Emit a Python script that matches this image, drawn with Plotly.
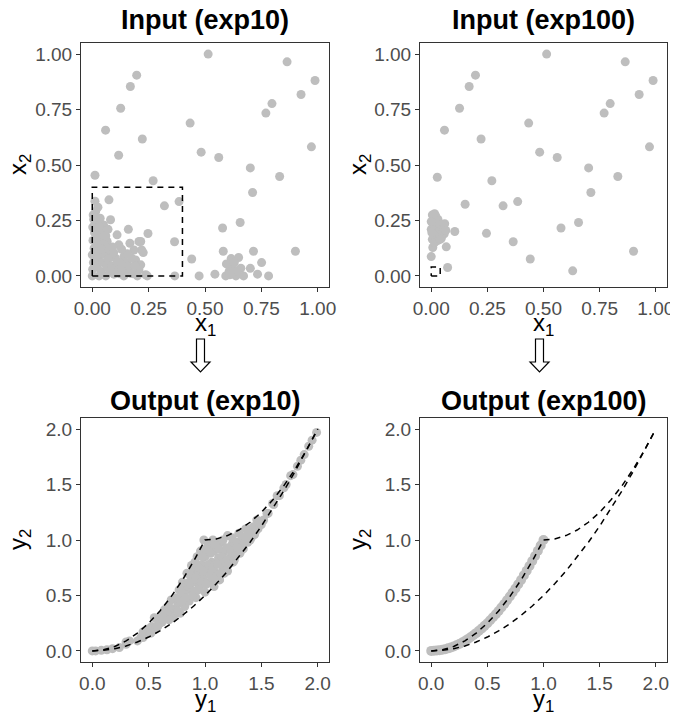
import plotly.graph_objects as go

# ---- data ----
titles = ["Input (exp10)", "Input (exp100)", "Output (exp10)", "Output (exp100)"]

in10_x1 = [0.514, 0.864, 0.988, 0.926, 0.797, 0.770, 0.972, 0.831, 0.701, 0.711, 0.434, 0.483, 0.561,
           0.197, 0.169, 0.126, 0.059, 0.222, 0.117, 0.012, 0.270, 0.385, 0.320, 0.074, 0.012, 0.578,
           0.656, 0.365, 0.441, 0.901, 0.715, 0.581, 0.751, 0.701, 0.733, 0.782, 0.474, 0.544, 0.366,
           0.616, 0.649, 0.595, 0.622, 0.659, 0.637, 0.671, 0.592, 0.607, 0.644, 0.630, 0.610,
           0.247, 0.226, 0.215, 0.081, 0.160, 0.110, 0.167, 0.207, 0.219, 0.185, 0.118, 0.237, 0.244,
           0.096, 0.170, 0.140, 0.155, 0.192, 0.215, 0.207, 0.126, 0.103, 0.081, 0.060, 0.036, 0.044,
           0.022, 0.015, 0.050, 0.066, 0.000, 0.002, 0.005, 0.000, 0.008, 0.003, 0.010, 0.002, 0.006,
           0.004, 0.020, 0.025, 0.018, 0.028, 0.020, 0.030, 0.035, 0.040, 0.045, 0.050, 0.055, 0.042,
           0.060, 0.065, 0.070, 0.075, 0.085, 0.090, 0.100, 0.110, 0.120, 0.130, 0.150, 0.165, 0.180,
           0.190, 0.200, 0.060, 0.030, 0.140, 0.080, 0.095, 0.175, 0.155, 0.130, 0.025, 0.070]
in10_x2 = [1.000, 0.965, 0.881, 0.818, 0.777, 0.734, 0.582, 0.448, 0.487, 0.376, 0.689, 0.558, 0.534,
           0.905, 0.854, 0.756, 0.657, 0.617, 0.544, 0.454, 0.429, 0.335, 0.316, 0.343, 0.337, 0.216,
           0.241, 0.154, 0.076, 0.111, 0.111, 0.111, 0.060, 0.034, 0.008, 0.000, 0.000, 0.008, 0.000,
           0.078, 0.083, 0.054, 0.039, 0.035, 0.000, 0.000, 0.000, 0.020, 0.020, 0.060, 0.005,
           0.191, 0.105, 0.155, 0.253, 0.210, 0.185, 0.147, 0.155, 0.117, 0.117, 0.140, 0.005, 0.000,
           0.008, 0.012, 0.087, 0.057, 0.072, 0.050, 0.027, 0.057, 0.080, 0.095, 0.117, 0.170, 0.200,
           0.245, 0.290, 0.230, 0.155, 0.000, 0.030, 0.060, 0.095, 0.125, 0.160, 0.195, 0.220, 0.255,
           0.275, 0.040, 0.080, 0.110, 0.140, 0.180, 0.220, 0.260, 0.020, 0.060, 0.100, 0.140, 0.120,
           0.180, 0.040, 0.075, 0.120, 0.045, 0.130, 0.030, 0.060, 0.010, 0.035, 0.020, 0.040, 0.010,
           0.045, 0.000, 0.000, 0.000, 0.000, 0.020, 0.105, 0.080, 0.100, 0.120, 0.310, 0.210]

in100_x1 = [0.514, 0.864, 0.988, 0.926, 0.797, 0.770, 0.972, 0.831, 0.701, 0.711, 0.434, 0.483, 0.561,
            0.197, 0.169, 0.126, 0.059, 0.222, 0.027, 0.270, 0.385, 0.320, 0.151, 0.578, 0.656, 0.365,
            0.441, 0.901, 0.630, 0.246, 0.105, 0.073, 0.067, 0.007, 0.000,
            0.005, 0.010, 0.000, 0.008, 0.012, 0.005, 0.020, 0.025, 0.020, 0.025, 0.018, 0.030, 0.035,
            0.040, 0.035, 0.030, 0.045, 0.050, 0.055, 0.060, 0.058, 0.045, 0.015, 0.040, 0.065, 0.003,
            0.015, 0.000]
in100_x2 = [1.000, 0.965, 0.881, 0.818, 0.777, 0.734, 0.582, 0.448, 0.487, 0.376, 0.689, 0.558, 0.534,
            0.905, 0.854, 0.756, 0.657, 0.617, 0.445, 0.429, 0.335, 0.316, 0.323, 0.216, 0.241, 0.154,
            0.076, 0.111, 0.023, 0.192, 0.200, 0.038, 0.131, 0.128, 0.087,
            0.165, 0.190, 0.210, 0.235, 0.260, 0.275, 0.270, 0.245, 0.220, 0.195, 0.175, 0.160, 0.185,
            0.210, 0.235, 0.255, 0.230, 0.195, 0.215, 0.235, 0.190, 0.170, 0.150, 0.165, 0.205, 0.195,
            0.280, 0.245]

out10_y1 = [0.00, 0.03, 0.08, 0.13, 0.18, 0.24, 0.30, 0.33, 0.30, 0.40, 0.43, 0.45, 0.49, 0.50, 0.53,
            0.56, 0.58, 0.60, 0.55, 0.64, 0.66, 0.70, 0.70, 0.73, 0.72, 0.76, 0.77, 0.80, 0.78, 0.82,
            0.81, 0.84, 0.84, 0.86, 0.88, 0.88, 0.90, 0.90, 0.92, 0.93, 0.94, 0.95, 0.96, 0.97, 0.99,
            0.98, 1.00, 1.00, 1.02, 1.03, 1.04, 1.06, 1.07, 1.08, 1.08, 1.10, 1.12, 1.13, 1.14, 1.15,
            1.17, 1.17, 1.20, 1.20, 1.22, 1.24, 1.25, 1.26, 1.28, 1.30, 1.31, 1.32, 1.34, 1.36, 1.38,
            1.40, 1.42, 1.44, 1.46, 1.47, 1.50, 1.52, 1.55, 1.56, 1.60, 1.61, 1.64, 1.66, 1.70, 1.72,
            1.76, 1.78, 1.82, 1.85, 1.88, 1.92, 1.95, 1.99,
            0.85, 0.87, 0.89, 0.91, 0.92, 0.94, 0.95, 0.97, 0.98, 0.99, 1.01, 1.01, 1.03, 1.05, 1.05,
            1.07, 1.09, 1.09, 1.11, 1.12, 1.14, 1.15, 1.16, 1.18, 1.19, 1.21, 1.23, 1.24, 1.27, 1.28,
            1.29, 1.33, 1.35, 1.37, 1.39, 1.41, 1.43, 1.45, 1.48, 0.74, 0.76, 0.79, 0.80, 0.83, 0.86,
            0.62, 0.65, 0.68, 0.68, 0.45, 0.52, 0.58, 0.62]
out10_y2 = [0.00, 0.00, 0.005, 0.01, 0.02, 0.03, 0.06, 0.09, 0.08, 0.09, 0.12, 0.17, 0.16, 0.20, 0.22,
            0.20, 0.28, 0.25, 0.30, 0.37, 0.30, 0.46, 0.36, 0.38, 0.30, 0.43, 0.55, 0.62, 0.34, 0.40,
            0.60, 0.55, 0.70, 0.45, 0.77, 0.55, 0.73, 0.62, 0.48, 0.85, 0.70, 0.58, 0.90, 0.78, 1.00,
            0.66, 0.53, 0.85, 0.72, 0.95, 0.62, 0.80, 1.00, 0.58, 0.90, 0.70, 0.84, 0.64, 0.98, 0.77,
            0.90, 0.70, 1.04, 0.72, 0.84, 0.96, 0.80, 0.82, 0.90, 1.06, 0.88, 0.98, 0.92, 1.10, 0.98,
            1.00, 1.05, 1.05, 1.18, 1.10, 1.14, 1.18, 1.24, 1.24, 1.33, 1.32, 1.40, 1.40, 1.47, 1.50,
            1.58, 1.59, 1.665, 1.72, 1.77, 1.845, 1.90, 1.97,
            0.60, 0.68, 0.50, 0.80, 0.66, 0.55, 0.75, 0.62, 0.85, 0.72, 0.60, 0.92, 0.78, 0.68, 0.88,
            0.75, 0.95, 0.65, 0.78, 0.92, 0.70, 0.85, 1.00, 0.80, 0.93, 0.78, 0.90, 1.02, 0.86, 0.98,
            0.93, 1.03, 0.98, 1.04, 1.10, 1.02, 1.12, 1.08, 1.16, 0.48, 0.36, 0.45, 0.52, 0.48, 0.62,
            0.26, 0.35, 0.28, 0.40, 0.12, 0.16, 0.22, 0.32]

out100_y1 = [0.000, 0.025, 0.050, 0.075, 0.100, 0.125, 0.150, 0.175, 0.200, 0.225, 0.250, 0.275, 0.300,
             0.325, 0.350, 0.375, 0.400, 0.425, 0.450, 0.475, 0.500, 0.525, 0.550, 0.575, 0.600, 0.625,
             0.650, 0.675, 0.700, 0.725, 0.750, 0.775, 0.800, 0.825, 0.850, 0.875, 0.900, 0.925, 0.950,
             0.975, 1.000]
out100_y2 = [0.000, 0.001, 0.003, 0.006, 0.010, 0.016, 0.023, 0.031, 0.040, 0.051, 0.063, 0.076, 0.090,
             0.106, 0.123, 0.141, 0.160, 0.181, 0.203, 0.226, 0.250, 0.276, 0.303, 0.331, 0.360, 0.391,
             0.423, 0.456, 0.490, 0.526, 0.563, 0.601, 0.640, 0.681, 0.723, 0.766, 0.810, 0.856, 0.903,
             0.951, 1.000]

# dashed boundary curves of the output space
front_y1 = [0.0, 0.1, 0.2, 0.3, 0.4, 0.5, 0.6, 0.7, 0.8, 0.9, 1.0,
            1.1, 1.2, 1.3, 1.4, 1.5, 1.6, 1.7, 1.8, 1.9, 2.0]
front_upper = [0.0, 0.01, 0.04, 0.09, 0.16, 0.25, 0.36, 0.49, 0.64, 0.81, 1.0,
               1.01, 1.04, 1.09, 1.16, 1.25, 1.36, 1.49, 1.64, 1.81, 2.0]
front_lower = [0.0, 0.005, 0.02, 0.045, 0.08, 0.125, 0.18, 0.245, 0.32, 0.405, 0.5,
               0.605, 0.72, 0.845, 0.98, 1.125, 1.28, 1.445, 1.62, 1.805, 2.0]

# dashed input boxes (side length)
box_sizes = [0.4, 0.04]

x_ticks_in = [0, 0.25, 0.5, 0.75, 1.0]
x_tick_in_text = ["0.00", "0.25", "0.50", "0.75", "1.00"]
x_ticks_out = [0, 0.5, 1.0, 1.5, 2.0]
x_tick_out_text = ["0.0", "0.5", "1.0", "1.5", "2.0"]

# ---- figure ----
# the page body has an 8px margin, so the figure starts 8px in from the window corner
OFF = 8
W, H = 678 - OFF, 724 - 2 * OFF
FONT = "Liberation Sans, Arial, sans-serif"
GREY = "#BEBEBE"
DASH = "6px,5px"

def px(x):
    return (x - OFF) / W

def py(y):
    return 1 - (y - OFF) / H

xdom = [[px(81), px(329)], [px(420), px(667)], [px(81), px(329)], [px(420), px(667)]]
ydom = [[py(287), py(43)], [py(287), py(43)], [py(662), py(418)], [py(662), py(418)]]

fig = go.Figure()

point_sets = [(in10_x1, in10_x2), (in100_x1, in100_x2), (out10_y1, out10_y2), (out100_y1, out100_y2)]
for i, (xs, ys) in enumerate(point_sets):
    ax = "" if i == 0 else str(i + 1)
    size = 9 if i < 3 else 10
    fig.add_trace(go.Scatter(x=xs, y=ys, mode="markers", xaxis="x" + ax, yaxis="y" + ax,
                             marker=dict(color=GREY, size=size, line=dict(width=0)),
                             showlegend=False, hoverinfo="skip"))

# dashed boxes on the input panels
for i, s in enumerate(box_sizes):
    ax = "" if i == 0 else str(i + 1)
    fig.add_trace(go.Scatter(x=[0, s, s, 0, 0], y=[0, 0, s, s, 0], mode="lines",
                             xaxis="x" + ax, yaxis="y" + ax,
                             line=dict(color="black", width=1.5, dash=DASH),
                             showlegend=False, hoverinfo="skip"))

# dashed front curves on the output panels
for i in (2, 3):
    ax = str(i + 1)
    for curve in (front_upper, front_lower):
        fig.add_trace(go.Scatter(x=front_y1, y=curve, mode="lines", xaxis="x" + ax, yaxis="y" + ax,
                                 line=dict(color="black", width=1.5, dash=DASH),
                                 showlegend=False, hoverinfo="skip"))

axis_style = dict(showline=True, mirror=True, linecolor="#333333", linewidth=1,
                  ticks="outside", ticklen=4, tickcolor="#333333", tickwidth=1,
                  showgrid=False, zeroline=False, automargin=False, ticklabeloverflow="allow",
                  tickfont=dict(family=FONT, size=19, color="#4D4D4D"))

layout = dict(width=W, height=H, margin=dict(l=0, r=0, t=0, b=0, pad=0, autoexpand=False),
              paper_bgcolor="white", plot_bgcolor="white", showlegend=False)

for i in range(4):
    ax = "" if i == 0 else str(i + 1)
    if i < 2:
        rng, tv, tt = [-0.05, 1.05], x_ticks_in, x_tick_in_text
    else:
        rng, tv, tt = [-0.1, 2.1], x_ticks_out, x_tick_out_text
    layout["xaxis" + ax] = dict(axis_style, domain=xdom[i], range=rng, tickvals=tv, ticktext=tt,
                                anchor="y" + ax)
    layout["yaxis" + ax] = dict(axis_style, domain=ydom[i], range=rng, tickvals=tv, ticktext=tt,
                                anchor="x" + ax)

fig.update_layout(**layout)

annotations = []
title_y = [20, 20, 401, 401]
for i in range(4):
    cx = (xdom[i][0] + xdom[i][1]) / 2
    annotations.append(dict(text="<b>" + titles[i] + "</b>", x=cx, y=py(title_y[i]),
                            xref="paper", yref="paper", showarrow=False, xanchor="center",
                            yanchor="middle", font=dict(family=FONT, size=27, color="black")))
    sym = "x" if i < 2 else "y"
    xlab_y = 324 if i < 2 else 700
    annotations.append(dict(text=sym + "<sub>1</sub>", x=cx, y=py(xlab_y), xref="paper",
                            yref="paper", showarrow=False, xanchor="center", yanchor="middle",
                            font=dict(family=FONT, size=24, color="black")))
    ymid = (ydom[i][0] + ydom[i][1]) / 2
    lab_x = px(19) if i % 2 == 0 else px(359)
    annotations.append(dict(text=sym + "<sub>2</sub>", x=lab_x, y=ymid, xref="paper",
                            yref="paper", showarrow=False, xanchor="center", yanchor="middle",
                            textangle=-90, font=dict(family=FONT, size=24, color="black")))
fig.update_layout(annotations=annotations)

# hollow arrows between input and output panels
def arrow_path(cx):
    top, neck, tip = 339, 362, 372
    sw, hw = 4, 9.5
    pts = [(cx - sw, top), (cx + sw, top), (cx + sw, neck), (cx + hw, neck), (cx, tip),
           (cx - hw, neck), (cx - sw, neck)]
    return "M " + " L ".join(f"{px(a):.5f},{py(b):.5f}" for a, b in pts) + " Z"

for cx in (200.5, 539.5):
    fig.add_shape(type="path", path=arrow_path(cx), xref="paper", yref="paper",
                  line=dict(color="black", width=1.2), fillcolor="white")

fig.write_html("out.html")
